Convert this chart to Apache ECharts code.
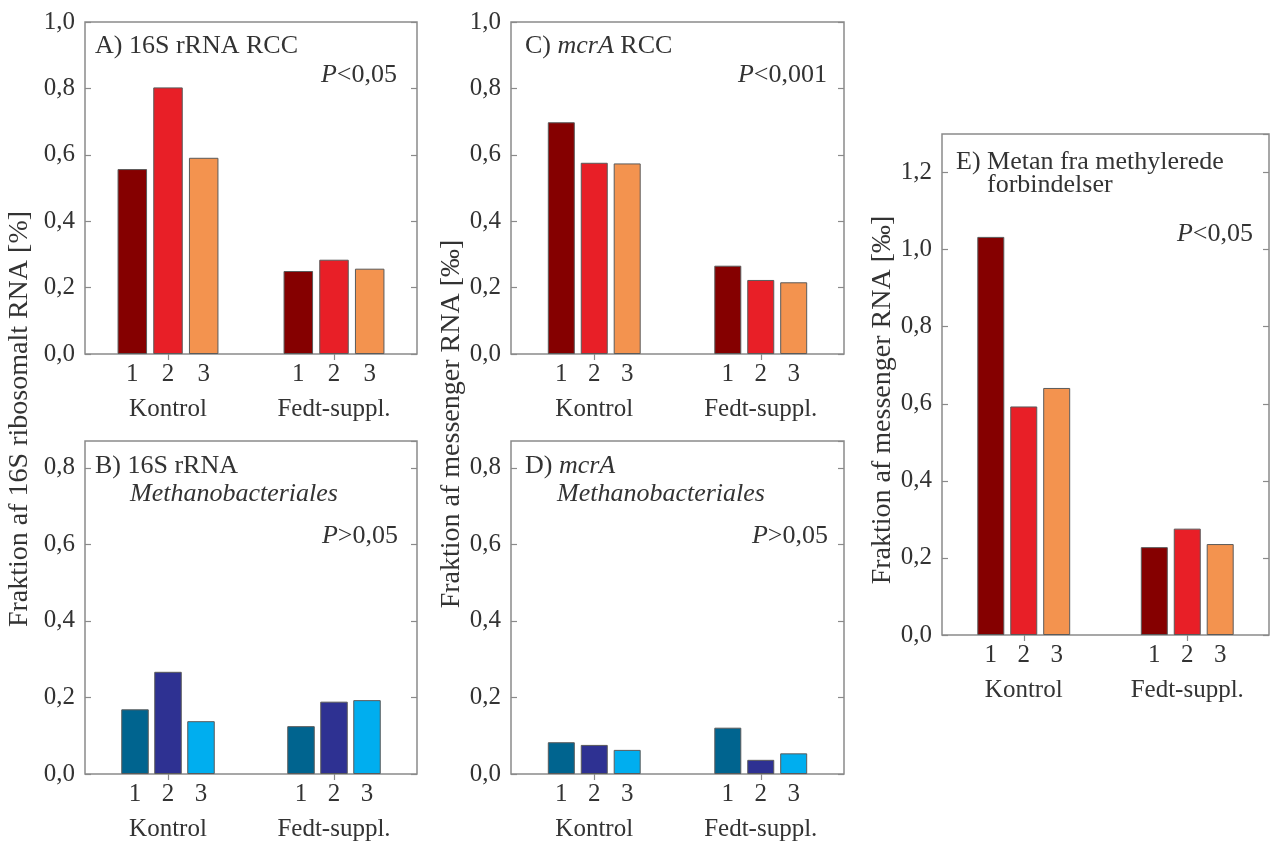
<!DOCTYPE html>
<html><head><meta charset="utf-8">
<script src="https://cdn.jsdelivr.net/npm/echarts@6/dist/echarts.min.js"></script>
<style>html,body{margin:0;padding:0;background:#fff}#c{width:1274px;height:844px}</style>
</head><body><div id="c"></div>
<script>
// ---- data ----
const groups = ['Kontrol', 'Fedt-suppl.'];
const seriesNames = ['1', '2', '3'];
// Panel A: 16S rRNA RCC [%]
const a1 = [0.557, 0.250], a2 = [0.803, 0.284], a3 = [0.591, 0.257];
// Panel B: 16S rRNA Methanobacteriales [%]
const b1 = [0.169, 0.125], b2 = [0.267, 0.189], b3 = [0.138, 0.193];
// Panel C: mcrA RCC [‰]
const c1 = [0.698, 0.266], c2 = [0.576, 0.223], c3 = [0.574, 0.216];
// Panel D: mcrA Methanobacteriales [‰]
const d1 = [0.083, 0.121], d2 = [0.076, 0.037], d3 = [0.063, 0.054];
// Panel E: Metan fra methylerede forbindelser [‰]
const e1 = [1.033, 0.228], e2 = [0.593, 0.276], e3 = [0.641, 0.236];
const yMax = [1.0, 0.87, 1.0, 0.87, 1.3];

const reds = ['#850000', '#E81F27', '#F3934F'];
const blues = ['#00648F', '#2E3192', '#00AEEF'];
const FONT = 'Liberation Serif';
const TXT = '#333333';
const FRAME = '#8a8a8a';

const panels = [
  {data: [a1, a2, a3], colors: reds, grid: {left: 85, top: 22, width: 332, height: 332}, bw: 29.5, gap: '21%'},
  {data: [b1, b2, b3], colors: blues, grid: {left: 85, top: 441, width: 332, height: 333}, bw: 27.5, gap: '20%'},
  {data: [c1, c2, c3], colors: reds, grid: {left: 511, top: 22, width: 333, height: 332}, bw: 27, gap: '22%'},
  {data: [d1, d2, d3], colors: blues, grid: {left: 511, top: 441, width: 333, height: 333}, bw: 27, gap: '22%'},
  {data: [e1, e2, e3], colors: reds, grid: {left: 942, top: 134, width: 327, height: 501}, bw: 27, gap: '22%'}
];

const grid = [], xAxis = [], yAxis = [], series = [];
panels.forEach((p, i) => {
  grid.push(Object.assign({show: true, borderColor: FRAME, borderWidth: 1.5, backgroundColor: 'transparent'}, p.grid));
  const tick = {show: true, inside: true, length: 6, alignWithLabel: true, lineStyle: {color: FRAME, width: 1.2}};
  xAxis.push({type: 'category', gridIndex: i, data: groups, position: 'bottom',
    axisLine: {show: false}, axisTick: tick,
    axisLabel: {margin: 43, fontSize: 25, fontFamily: FONT, color: TXT}});
  xAxis.push({type: 'category', gridIndex: i, data: groups, position: 'top',
    axisLine: {show: false}, axisTick: tick, axisLabel: {show: false}});
  const fmt = v => v.toFixed(1).replace('.', ',');
  yAxis.push({type: 'value', gridIndex: i, min: 0, max: yMax[i], interval: 0.2, position: 'left',
    axisLine: {show: false}, splitLine: {show: false},
    axisTick: {show: true, inside: true, length: 6, lineStyle: {color: FRAME, width: 1.2}},
    axisLabel: {formatter: fmt, showMaxLabel: yMax[i] === 1.0, margin: 10, fontSize: 25, fontFamily: FONT, color: TXT}});
  yAxis.push({type: 'value', gridIndex: i, min: 0, max: yMax[i], interval: 0.2, position: 'right',
    axisLine: {show: false}, splitLine: {show: false},
    axisTick: {show: true, inside: true, length: 6, lineStyle: {color: FRAME, width: 1.2}},
    axisLabel: {show: false}});
  p.data.forEach((vals, k) => {
    series.push({
      type: 'bar', name: seriesNames[k], xAxisIndex: 2 * i, yAxisIndex: 2 * i,
      data: vals, barWidth: p.bw, barGap: p.gap,
      itemStyle: {color: p.colors[k], borderColor: '#5a5a5a', borderWidth: 1},
      label: {show: true, position: 'bottom', distance: 8, formatter: seriesNames[k],
        fontSize: 25, fontFamily: FONT, color: TXT},
      silent: true
    });
  });
});

function txt(x, y, text, opts) {
  return Object.assign({type: 'text', x: x, y: y, silent: true,
    style: Object.assign({text: text, fill: TXT, fontFamily: FONT, fontSize: 26,
      textAlign: 'left', textVerticalAlign: 'middle',
      rich: {i: {fontStyle: 'italic', fontFamily: FONT, fontSize: 26, fill: TXT}}}, opts || {})});
}
const graphic = [
  txt(95, 46, 'A) 16S rRNA RCC'),
  txt(397, 75, '{i|P}<0,05', {textAlign: 'right'}),
  txt(525, 46, 'C) {i|mcrA} RCC'),
  txt(827, 75, '{i|P}<0,001', {textAlign: 'right'}),
  txt(95, 466, 'B) 16S rRNA'),
  txt(130, 494, 'Methanobacteriales', {fontStyle: 'italic'}),
  txt(398, 536, '{i|P}>0,05', {textAlign: 'right'}),
  txt(525, 466, 'D) {i|mcrA}'),
  txt(557, 494, 'Methanobacteriales', {fontStyle: 'italic'}),
  txt(828, 536, '{i|P}>0,05', {textAlign: 'right'}),
  txt(956, 162, 'E) Metan fra methylerede'),
  txt(987, 185, 'forbindelser'),
  txt(1253, 234, '{i|P}<0,05', {textAlign: 'right'}),
  // y axis titles
  Object.assign(txt(20, 419, 'Fraktion af 16S ribosomalt RNA [%]', {textAlign: 'center', fontSize: 28}), {rotation: Math.PI / 2}),
  Object.assign(txt(452, 424, 'Fraktion af messenger RNA [‰]', {textAlign: 'center', fontSize: 28}), {rotation: Math.PI / 2}),
  Object.assign(txt(883, 400, 'Fraktion af messenger RNA [‰]', {textAlign: 'center', fontSize: 28}), {rotation: Math.PI / 2})
];

const chart = echarts.init(document.getElementById('c'), null, {renderer: 'canvas'});
chart.setOption({
  animation: false,
  backgroundColor: '#ffffff',
  textStyle: {fontFamily: FONT},
  grid: grid, xAxis: xAxis, yAxis: yAxis, series: series, graphic: graphic
});
</script>
</body></html>
